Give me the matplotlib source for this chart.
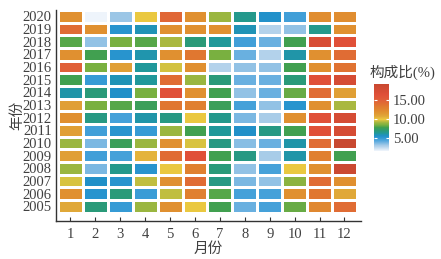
import numpy as np
import matplotlib
matplotlib.use('Agg')
import matplotlib.pyplot as plt
from matplotlib.colors import LinearSegmentedColormap, Normalize

# months and years
months = list(range(1, 13))
years = list(range(2005, 2021))

# composition ratio (%) by month, one row per year
r2005 = [10.8, 7.0, 4.9, 9.0, 12.0, 10.0, 7.8, 4.0, 4.6, 8.3, 12.5, 14.2]
r2006 = [12.0, 5.3, 7.0, 4.8, 9.5, 13.0, 8.1, 4.6, 4.6, 12.0, 13.5, 10.8]
r2007 = [9.75, 5.6, 5.3, 9.5, 12.0, 14.2, 6.8, 3.7, 3.4, 8.8, 14.2, 12.0]
r2008 = [9.0, 3.7, 6.6, 5.3, 10.0, 13.0, 7.0, 3.4, 4.6, 10.0, 12.0, 19.0]
r2009 = [11.2, 4.7, 4.6, 10.5, 14.2, 16.5, 7.8, 6.8, 3.0, 6.1, 13.0, 7.8]
r2010 = [9.0, 3.7, 7.6, 9.0, 12.0, 9.75, 6.8, 3.5, 4.0, 6.1, 14.2, 19.4]
r2011 = [11.2, 4.7, 5.3, 4.9, 9.0, 7.8, 6.3, 5.6, 6.8, 7.8, 16.5, 17.8]
r2012 = [12.0, 6.8, 4.6, 6.1, 6.8, 10.0, 6.6, 3.7, 3.0, 12.0, 16.5, 17.8]
r2013 = [11.2, 8.5, 8.1, 7.6, 13.5, 13.0, 7.6, 4.6, 3.4, 5.3, 12.0, 9.2]
r2014 = [6.1, 7.0, 5.6, 8.5, 16.5, 12.0, 7.8, 3.4, 4.0, 8.3, 14.2, 11.2]
r2015 = [7.8, 4.9, 5.9, 6.3, 14.2, 9.0, 7.0, 4.0, 4.0, 7.0, 16.5, 17.8]
r2016 = [15.0, 8.5, 11.2, 6.3, 9.7, 12.0, 2.8, 3.4, 3.4, 7.8, 12.0, 13.8]
r2017 = [12.0, 7.8, 5.3, 6.0, 12.0, 13.5, 8.5, 4.0, 2.8, 6.1, 12.0, 14.2]
r2018 = [8.1, 3.4, 8.5, 8.1, 9.2, 7.0, 6.3, 4.7, 4.0, 7.8, 17.5, 16.5]
r2019 = [14.2, 12.0, 5.3, 5.9, 12.0, 12.0, 12.0, 5.9, 2.8, 3.4, 6.6, 12.0]
r2020 = [12.0, 1.6, 3.2, 10.0, 14.6, 12.0, 9.0, 6.6, 5.5, 4.7, 12.2, 12.2]

Z = np.array([r2005, r2006, r2007, r2008, r2009, r2010, r2011, r2012,
              r2013, r2014, r2015, r2016, r2017, r2018, r2019, r2020])

cbar_ticks = [5, 10, 15]

# gradient light blue -> blue -> green -> yellow -> orange -> red
vmin, vmax = Z.min(), Z.max()
nodes = [(1.6, '#eef4fb'), (3.0, '#a8cce8'), (4.2, '#5aaade'), (5.0, '#3098d4'),
         (5.6, '#2090c8'), (6.3, '#209898'), (7.0, '#2a9a78'), (7.8, '#40a050'),
         (8.5, '#78b040'), (9.2, '#a8b840'), (10.0, '#ecc840'), (10.8, '#e0a838'),
         (12.0, '#e09030'), (13.5, '#e07830'), (15.0, '#e06038'), (16.5, '#e05038'),
         (19.4, '#c84830')]
cmap = LinearSegmentedColormap.from_list(
    'comp', [((v - vmin) / (vmax - vmin), c) for v, c in nodes])
norm = Normalize(vmin=vmin, vmax=vmax)

fam = ['Liberation Serif', 'Noto Sans CJK SC']
tc = '#404040'

fig = plt.figure(figsize=(4.41, 2.59), dpi=100)
ax = fig.add_axes([0.127, 0.147, 0.692, 0.814])

xe = np.arange(0.5, 13.5, 1)
ye = np.arange(2004.5, 2021.5, 1)
ax.pcolormesh(xe, ye, Z, cmap=cmap, norm=norm, edgecolors='white', linewidth=1.0)

ax.set_xlim(0.42, 12.67)
ax.set_ylim(2003.86, 2020.5)
for s in ['top', 'right']:
    ax.spines[s].set_visible(False)
for s in ['left', 'bottom']:
    ax.spines[s].set_color('#333333')
    ax.spines[s].set_linewidth(1.0)

ax.set_xticks(months)
ax.set_xticklabels([str(m) for m in months], family=fam, fontsize=10.5, color=tc)
ax.tick_params(axis='x', direction='in', length=3, color='#333333', pad=5)

# all years labelled, tick marks only every 5 years
ax.set_yticks(years)
ax.set_yticklabels([str(y) for y in years], family=fam, fontsize=10.5, color=tc)
ax.tick_params(axis='y', which='major', length=0, pad=3)
ax.set_yticks([2005, 2010, 2015, 2020], minor=True)
ax.tick_params(axis='y', which='minor', direction='in', length=3, color='#333333')

ax.set_xlabel('月份', family=fam, fontsize=10.5, color=tc, labelpad=1)
ax.set_ylabel('年份', family=fam, fontsize=10.5, color=tc)
ax.yaxis.set_label_coords(-0.105, 0.5)

# colorbar
cax = fig.add_axes([0.848, 0.417, 0.034, 0.259])
sm = plt.cm.ScalarMappable(norm=norm, cmap=cmap)
cb = fig.colorbar(sm, cax=cax)
cb.outline.set_visible(False)
cb.set_ticks(cbar_ticks)
cb.set_ticklabels(['%.2f' % t for t in cbar_ticks])
cax.tick_params(length=0, pad=3)
for lab in cax.get_yticklabels():
    lab.set_family(fam)
    lab.set_fontsize(10.5)
    lab.set_color(tc)
cax.hlines(cbar_ticks, 0, 0.2, colors='white', linewidth=0.8)
cax.hlines(cbar_ticks, 0.8, 1, colors='white', linewidth=0.8)

fig.text(0.839, 0.722, '构成比(%)', family=fam, fontsize=10.5, color=tc,
         ha='left', va='center')

fig.savefig('out.png', dpi=100)
